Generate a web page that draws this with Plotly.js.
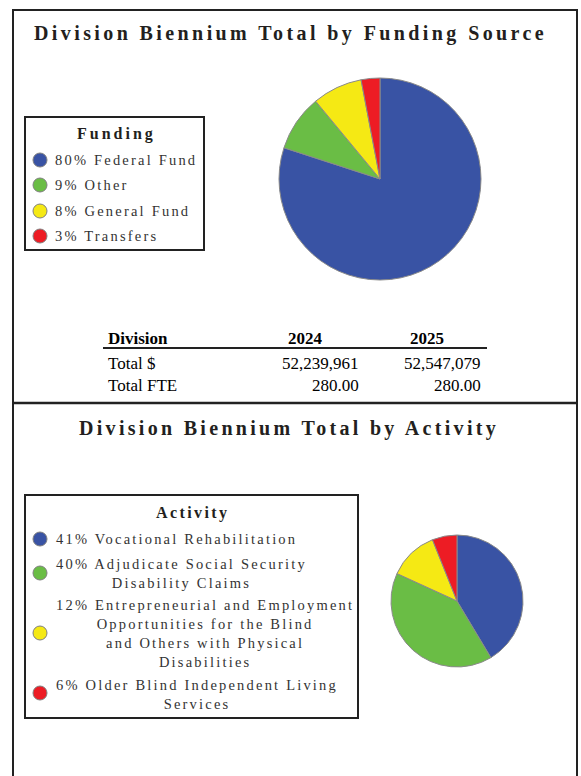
<!DOCTYPE html>
<html><head><meta charset="utf-8">
<script src="https://cdn.plot.ly/plotly-3.0.1.min.js"></script>
<style>html,body{margin:0;padding:0;background:#fff;}</style>
</head><body><div id="chart" style="width:581px;height:776px;"></div>
<script>
const fundingLabels = ['Federal Fund', 'Other', 'General Fund', 'Transfers'];
const fundingValues = [80, 9, 8, 3];
const activityLabels = [
  'Vocational Rehabilitation',
  'Adjudicate Social Security<br>Disability Claims',
  'Entrepreneurial and Employment<br>Opportunities for the Blind<br>and Others with Physical<br>Disabilities',
  'Older Blind Independent Living<br>Services'
];
const activityValues = [41, 40, 12, 6];
const sliceColors = ['#3953a4', '#6abd45', '#f5e914', '#ed1c24'];
const chartTitles = ['Division Biennium Total by Funding Source', 'Division Biennium Total by Activity'];
const legendTitles = ['Funding', 'Activity'];
const tableHeader = ['Division', '2024', '2025'];
const tableRowLabels = ['Total $', 'Total FTE'];
const values2024 = ['52,239,961', '280.00'];
const values2025 = ['52,547,079', '280.00'];

const W = 581, H = 776;
const px = x => x / W;
const py = y => 1 - y / H;
const SERIF = '"Liberation Serif", "Times New Roman", serif';
const ls = (t, s) => t.split('<br>').map(l => `<span style="letter-spacing:${s}px">${l}</span>`).join('<br>');

function pct(vals) {
  const s = vals.reduce((a, b) => a + b, 0);
  return vals.map(v => Math.round(v / s * 100));
}

const traces = [
  {
    type: 'pie', values: fundingValues, labels: fundingLabels, sort: false,
    direction: 'clockwise', rotation: 0, textinfo: 'none', hoverinfo: 'none', showlegend: false,
    marker: {colors: sliceColors, line: {color: '#8a8a8a', width: 1}},
    domain: {x: [px(279), px(481)], y: [py(280), py(78)]}
  },
  {
    type: 'pie', values: activityValues, labels: activityLabels, sort: false,
    direction: 'clockwise', rotation: 0, textinfo: 'none', hoverinfo: 'none', showlegend: false,
    marker: {colors: sliceColors, line: {color: '#8a8a8a', width: 1}},
    domain: {x: [px(391), px(523)], y: [py(667), py(535)]}
  }
];

const shapes = [];
const annotations = [];
const line = (x0, y0, x1, y1, w, c) => shapes.push({type: 'line', xref: 'paper', yref: 'paper',
  x0: px(x0), y0: py(y0), x1: px(x1), y1: py(y1), line: {color: c || '#222', width: w}});
const rect = (x0, y0, x1, y1) => shapes.push({type: 'rect', xref: 'paper', yref: 'paper',
  x0: px(x0), y0: py(y0), x1: px(x1), y1: py(y1), line: {color: '#222', width: 2}, fillcolor: 'rgba(0,0,0,0)'});
const circ = (cx, cy, r, col) => shapes.push({type: 'circle', xref: 'paper', yref: 'paper',
  x0: px(cx - r), y0: py(cy + r), x1: px(cx + r), y1: py(cy - r), fillcolor: col, line: {color: '#808080', width: 1}});
const text = (t, x, y, opts) => annotations.push(Object.assign({text: t, xref: 'paper', yref: 'paper',
  x: px(x), y: py(y), showarrow: false, xanchor: 'left', yanchor: 'middle',
  font: {family: SERIF, size: 14.5, color: '#333'}}, opts || {}));

// frame
line(13, 10, 577, 10, 2);
line(13, 9, 13, 776, 2);
line(577, 9, 577, 776, 2);
line(13, 403, 577, 403, 2.5);

// titles
text(ls(`<b>${chartTitles[0]}</b>`, 3.4), 290, 34, {xanchor: 'center', font: {family: SERIF, size: 20, color: '#231f20'}});
text(ls(`<b>${chartTitles[1]}</b>`, 3.3), 289, 428, {xanchor: 'center', font: {family: SERIF, size: 20, color: '#231f20'}});

// legend 1
rect(25, 117, 204, 250);
text(ls(`<b>${legendTitles[0]}</b>`, 3), 116, 134, {xanchor: 'center', font: {family: SERIF, size: 16, color: '#231f20'}});
const fp = pct(fundingValues);
const l1y = [160, 185, 211, 236];
fundingLabels.forEach((lab, i) => {
  circ(40, l1y[i], 7, sliceColors[i]);
  text(ls(`${fp[i]}% ${lab}`, 2.2), 53, l1y[i]);
});

// table
text(`<b>${tableHeader[0]}</b>`, 106, 338, {font: {family: SERIF, size: 17, color: '#000'}});
text(`<b>${tableHeader[1]}</b>`, 305, 338, {xanchor: 'center', font: {family: SERIF, size: 17, color: '#000'}});
text(`<b>${tableHeader[2]}</b>`, 427, 338, {xanchor: 'center', font: {family: SERIF, size: 17, color: '#000'}});
line(103, 348, 487, 348, 2);
const rowY = [363, 385];
tableRowLabels.forEach((lab, i) => {
  text(lab, 106, rowY[i], {font: {family: SERIF, size: 17, color: '#000'}});
  text(values2024[i], 361, rowY[i], {xanchor: 'right', font: {family: SERIF, size: 17, color: '#000'}});
  text(values2025[i], 483, rowY[i], {xanchor: 'right', font: {family: SERIF, size: 17, color: '#000'}});
});

// legend 2
rect(25, 495, 358, 718);
text(ls(`<b>${legendTitles[1]}</b>`, 2.4), 192, 513, {xanchor: 'center', font: {family: SERIF, size: 16, color: '#231f20'}});
const ap = pct(activityValues);
const l2textY = [539, 573, 633.5, 694.5];
const l2circY = [539, 573, 633, 693];
activityLabels.forEach((lab, i) => {
  circ(40, l2circY[i], 7, sliceColors[i]);
  text(ls(`${ap[i]}% ${lab}`, 2.2), 54, l2textY[i], {align: 'center'});
});

const layout = {
  width: W, height: H, margin: {l: 0, r: 0, t: 0, b: 0},
  paper_bgcolor: '#fff', plot_bgcolor: '#fff', showlegend: false,
  shapes, annotations
};
Plotly.newPlot('chart', traces, layout, {staticPlot: true, displayModeBar: false});
</script></body></html>
